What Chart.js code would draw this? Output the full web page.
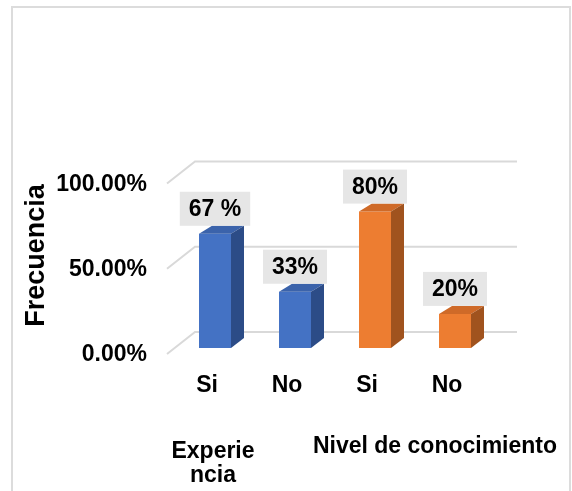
<!DOCTYPE html>
<html>
<head>
<meta charset="utf-8">
<title>Frecuencia</title>
<script src="https://cdn.jsdelivr.net/npm/chart.js@4/dist/chart.umd.min.js"></script>
<style>
  html, body { margin: 0; padding: 0; background: #fff; }
  #wrap { position: relative; width: 572px; height: 491px; overflow: hidden; }
  #frame { position: absolute; left: 11px; top: 6px; width: 560px; height: 520px;
           border: 2px solid #dcdcdc; box-sizing: border-box; }
  #wrap canvas { position: absolute; left: 0; top: 0; }
</style>
</head>
<body>
<div id="wrap">
  <div id="frame"></div>
  <canvas id="chart" width="572" height="491"></canvas>
</div>
<script>
// answers per category, as fractions
const categories = ['Si', 'No', 'Si', 'No'];
const values = [0.67, 0.33, 0.80, 0.20];
const valueLabels = ['67 %', '33%', '80%', '20%'];
const yTicks = [0, 0.5, 1];
const groupLabels = [['Experie', 'ncia'], ['Nivel de conocimiento']];

const frontColors = ['#4472c4', '#4472c4', '#ed7d31', '#ed7d31'];
const topColors = ['#3b63ab', '#3b63ab', '#cf6a28', '#cf6a28'];
const sideColors = ['#2c4c87', '#2c4c87', '#a0531e', '#a0531e'];

const FONT = "'Liberation Sans', Arial, sans-serif";
const DEPTH_X = 13, DEPTH_Y = 8;

// back wall + floor gridlines, drawn in perspective
const wallGrid = {
    id: 'wallGrid',
    beforeDatasetsDraw(chart) {
        const { ctx, chartArea, scales: { y } } = chart;
        ctx.save();
        ctx.strokeStyle = '#d9d9d9';
        ctx.lineWidth = 2;
        y.ticks.forEach(t => {
            const py = y.getPixelForValue(t.value);
            ctx.beginPath();
            ctx.moveTo(chartArea.left - 8, py + 6);
            ctx.lineTo(chartArea.left + 20, py - 16);
            ctx.lineTo(chartArea.right + 22, py - 16);
            ctx.stroke();
        });
        ctx.restore();
    }
};

// side/top faces of each bar and the grey value boxes
const bars3d = {
    id: 'bars3d',
    afterDatasetsDraw(chart) {
        const ctx = chart.ctx;
        const meta = chart.getDatasetMeta(0);
        ctx.save();
        meta.data.forEach((bar, i) => {
            const { x, y, base, width } = bar.getProps(['x', 'y', 'base', 'width'], true);
            const l = x - width / 2, r = x + width / 2;
            ctx.fillStyle = topColors[i];
            ctx.beginPath();
            ctx.moveTo(l, y);
            ctx.lineTo(l + DEPTH_X, y - DEPTH_Y);
            ctx.lineTo(r + DEPTH_X, y - DEPTH_Y);
            ctx.lineTo(r, y);
            ctx.closePath();
            ctx.fill();
            ctx.fillStyle = sideColors[i];
            ctx.beginPath();
            ctx.moveTo(r, y);
            ctx.lineTo(r + DEPTH_X, y - DEPTH_Y);
            ctx.lineTo(r + DEPTH_X, base - DEPTH_Y - 2);
            ctx.lineTo(r, base);
            ctx.closePath();
            ctx.fill();
        });

        ctx.font = 'bold 23px ' + FONT;
        ctx.textAlign = 'center';
        ctx.textBaseline = 'middle';
        meta.data.forEach((bar, i) => {
            const txt = valueLabels[i];
            const w = ctx.measureText(txt).width + 18;
            const h = 34;
            const bottom = bar.y - 8;
            ctx.fillStyle = '#e6e6e6';
            ctx.fillRect(bar.x - w / 2, bottom - h, w, h);
            ctx.fillStyle = '#000';
            ctx.fillText(txt, bar.x, bottom - h / 2 + 1);
        });
        ctx.restore();
    }
};

// axis title and the two group captions under the categories
const captions = {
    id: 'captions',
    afterDraw(chart) {
        const { ctx, chartArea } = chart;
        ctx.save();
        ctx.fillStyle = '#000';
        ctx.textAlign = 'center';
        ctx.textBaseline = 'middle';
        ctx.font = 'bold 27px ' + FONT;
        ctx.translate(37, chartArea.top + 78);
        ctx.rotate(-Math.PI / 2);
        ctx.fillText('Frecuencia', 0, 0);
        ctx.setTransform(1, 0, 0, 1, 0, 0);

        ctx.font = 'bold 23px ' + FONT;
        ctx.textBaseline = 'alphabetic';
        const gx = [chartArea.left + 38, chartArea.left + 260];
        const gy = [chartArea.bottom + 110, chartArea.bottom + 105];
        groupLabels.forEach((lines, g) => {
            lines.forEach((line, k) => {
                ctx.fillText(line, gx[g], gy[g] + k * 24);
            });
        });
        ctx.restore();
    }
};

new Chart(document.getElementById('chart'), {
    type: 'bar',
    data: {
        labels: categories,
        datasets: [{
            data: values,
            backgroundColor: frontColors,
            borderWidth: 0,
            barPercentage: 0.4,
            categoryPercentage: 1.0
        }]
    },
    options: {
        responsive: false,
        animation: false,
        layout: { padding: { top: 177.5, right: 77, bottom: 0, left: 0 } },
        plugins: {
            legend: { display: false },
            tooltip: { enabled: false }
        },
        scales: {
            x: {
                grid: { display: false },
                border: { display: false },
                ticks: {
                    color: '#000',
                    font: { family: FONT, size: 23, weight: 'bold' },
                    padding: 16,
                    labelOffset: -8
                },
                afterFit(scale) { scale.height = 143; }
            },
            y: {
                min: 0,
                max: 1,
                afterBuildTicks(scale) { scale.ticks = yTicks.map(v => ({ value: v })); },
                grid: { display: false, drawTicks: false },
                border: { display: false },
                ticks: {
                    color: '#000',
                    font: { family: FONT, size: 23, weight: 'bold' },
                    padding: 28,
                    labelOffset: 7,
                    callback: v => (v * 100).toFixed(2) + '%'
                },
                afterFit(scale) { scale.width = 175; }
            }
        }
    },
    plugins: [wallGrid, bars3d, captions]
});
</script>
</body>
</html>
